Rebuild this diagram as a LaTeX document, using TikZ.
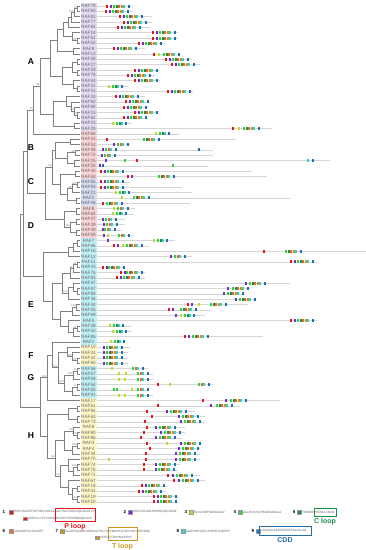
\documentclass[tikz,border=0pt]{standalone}
\usepackage{fontspec}
\setmainfont{Liberation Sans}
\usetikzlibrary{calc,positioning}

\definecolor{cA}{HTML}{E2DAF2}
\definecolor{cB}{HTML}{F9D2D4}
\definecolor{cC}{HTML}{D6DCF2}
\definecolor{cE}{HTML}{BDEDF6}
\definecolor{cF}{HTML}{FFF7C6}
\definecolor{mA}{HTML}{E8141C}
\definecolor{mB}{HTML}{7A2BD0}
\definecolor{mC}{HTML}{C9D62A}
\definecolor{mD}{HTML}{2FD33A}
\definecolor{mE}{HTML}{1E8E46}
\definecolor{mF}{HTML}{F2642A}
\definecolor{mG}{HTML}{C8961A}
\definecolor{mH}{HTML}{2ED3D8}
\definecolor{mI}{HTML}{1F6FB2}

% motif sets (offset/colour)
\def\hrp{0/mA,3.5/mB}
\def\hr{0/mA}
\def\hp{0/mB}
\def\hy{0/mC}
\def\hg{0/mD}
\def\hc{0/mH}
\def\hb{0/mI}
\def\cc{0/mD,2.5/mE,5/mF,7.5/mG,10/mH,15/mI}
\def\cs{0/mD,2.5/mF,5/mH,10/mI}
\def\cy{0/mC,4/mD,6.5/mE,9/mH,13/mI}

% clade: name, x, child, child, bootstrap
\newcommand\clade[5]{%
  \path let \p1=(#3), \p2=(#4) in coordinate (#1) at (#2pt,{0.5*\y1+0.5*\y2});
  \draw[br] (#1) |- (#3) (#1) |- (#4);
  \if\relax\detokenize{#5}\relax\else\node[bs] (#1b) at (#1) {#5};\fi}

% motif row: leaf, line end, start/set list
\newcommand\mrow[3]{%
  \draw[bar] (#1.east) -- ++({#2-96.5},0);
  \foreach \s/\q in {#3}{\edef\ql{\q}%
    \foreach \d/\k in \ql{\fill[\k] ($(#1.east)+({\s+\d-96.5},-1.5)$) rectangle ++(2.1,3);}}}

\begin{document}
\begin{tikzpicture}[x=1pt,y=-1pt,
  br/.style={draw=black!50,line width=.5pt},
  bar/.style={draw=black!16,line width=.7pt},
  leaf/.style={inner sep=0pt,minimum width=16pt,minimum height=5.4pt,
    font=\fontsize{4.6}{5}\selectfont,text=black!60},
  lbA/.style={leaf,fill=cA},
  lbB/.style={leaf,fill=cB},
  lbC/.style={leaf,fill=cC},
  lbE/.style={leaf,fill=cE},
  lbF/.style={leaf,fill=cF},
  bs/.style={font=\fontsize{2.6}{3}\selectfont,text=black!60,inner sep=.3pt,anchor=south east},
  grp/.style={font=\fontsize{8.5}{9}\selectfont\bfseries},
  num/.style={font=\fontsize{4.5}{5}\selectfont\bfseries,inner sep=0pt},
  key/.style={inner sep=0pt,minimum width=3.6pt,minimum height=3.6pt,draw=black!40,line width=.2pt},
  seq/.style={font=\fontsize{3.1}{3.5}\selectfont,inner sep=0pt,text=black!65},
  loopbox/.style={draw,line width=.8pt,inner sep=0pt},
  looplab/.style={font=\fontsize{7}{8}\selectfont\bfseries,inner sep=0pt}]

\useasboundingbox (0,0) rectangle (366,550);
\fill[white] (0,0) rectangle (366,550);

% leaf labels
\foreach \n [count=\i from 0] in {79,80,81,77,82,14,51,52,9,13,26,27,28,78,84,22,31,30,92,89,15,62,23,29}
  \node[lbA] (RAF\n) at (88.5,{6+5.333*\i}) {RAF\n};
\foreach \n [count=\i from 24] in {68,33,53,48,72,25,35,40,50}
  \node[lbB] (RAF\n) at (88.5,{6+5.333*\i}) {RAF\n};
\foreach \n [count=\i from 33] in {65,93,21,2,46}
  \node[lbC] (RAF\n) at (88.5,{6+5.333*\i}) {RAF\n};
\foreach \n [count=\i from 38] in {8,64,37,39,49,59}
  \node[lbB] (RAF\n) at (88.5,{6+5.333*\i}) {RAF\n};
\foreach \n [count=\i from 44] in {7,66,16,12,11,43,76,83,47,87,88,36,44,45,69,5,38,42,85,1}
  \node[lbE] (RAF\n) at (88.5,{6+5.333*\i}) {RAF\n};
\foreach \n [count=\i from 64] in {10,24,32,60}
  \node[lbF] (RAF\n) at (88.5,{6+5.333*\i}) {RAF\n};
\foreach \n [count=\i from 68] in {56,57,58,54,55,91}
  \node[lbE] (RAF\n) at (88.5,{6+5.333*\i}) {RAF\n};
\foreach \n [count=\i from 74] in {17,61,94,63,73,6,90,86,3,4,34,70,74,75,71,67,18,41,19,20}
  \node[lbF] (RAF\n) at (88.5,{6+5.333*\i}) {RAF\n};

% group letters
\node[grp] (gA) at (31,62) {A};
\node[grp] (gB) at (31,148) {B};
\node[grp] (gC) at (31,182) {C};
\node[grp] (gD) at (31,226) {D};
\node[grp] (gE) at (31,305) {E};
\node[grp] (gF) at (31,356) {F};
\node[grp] (gG) at (31,378) {G};
\node[grp] (gH) at (31,436) {H};

% tree, group A
\clade{a1}{77}{RAF79}{RAF80}{74}
\clade{a2}{74}{a1}{RAF81}{100}
\clade{a3}{71}{a2}{RAF77}{}
\clade{a4}{68}{a3}{RAF82}{}
\clade{a5}{77}{RAF51}{RAF52}{92}
\clade{a6}{72}{RAF14}{a5}{}
\clade{a7}{63}{a4}{a6}{}
\clade{a8}{73}{RAF9}{RAF13}{}
\clade{a9}{57}{a7}{a8}{}
\clade{a10}{77}{RAF26}{RAF27}{}
\clade{a11}{77}{RAF28}{RAF78}{}
\clade{a12}{72}{a10}{a11}{}
\clade{a13}{77}{RAF22}{RAF31}{}
\clade{a14}{73}{RAF84}{a13}{}
\clade{a15}{62}{a12}{a14}{}
\clade{a16}{50}{a9}{a15}{}
\clade{a17}{77}{RAF15}{RAF62}{93}
\clade{a18}{74}{RAF89}{a17}{54}
\clade{a19}{71}{RAF92}{a18}{}
\clade{a20}{66}{RAF30}{a19}{}
\clade{a21}{74}{RAF23}{RAF29}{}
\clade{a22}{53}{a20}{a21}{}
\clade{a23}{40}{a16}{a22}{92}
\clade{t2}{33}{a23}{RAF68}{75}
% groups B, C, D
\clade{b1}{70}{RAF33}{RAF53}{}
\clade{b2}{75}{RAF48}{RAF72}{59}
\clade{b3}{74}{RAF25}{RAF35}{}
\clade{b4}{67}{b2}{b3}{}
\clade{b5}{55}{b1}{b4}{}
\clade{c1}{75}{RAF40}{RAF50}{}
\clade{c2}{77}{RAF65}{RAF93}{100}
\clade{c3}{72}{c2}{RAF21}{98}
\clade{c4}{76}{RAF2}{RAF46}{}
\clade{c5}{67}{c3}{c4}{}
\clade{c6}{60}{c1}{c5}{}
\clade{bc}{52}{b5}{c6}{92}
\clade{d1}{76}{RAF8}{RAF64}{}
\clade{d2}{76}{RAF37}{RAF39}{}
\clade{d3}{76}{RAF49}{RAF59}{}
\clade{d4}{70}{d2}{d3}{92}
\clade{d5}{64}{d1}{d4}{}
\clade{bcd}{45}{bc}{d5}{}
\clade{t1}{27}{t2}{bcd}{}
% group E
\clade{e1}{77}{RAF7}{RAF66}{}
\clade{e2}{73}{e1}{RAF16}{}
\clade{e3}{68}{e2}{RAF12}{}
\clade{e4}{77}{RAF11}{RAF43}{91}
\clade{e5}{73}{e4}{RAF76}{86}
\clade{e6}{70}{e5}{RAF83}{}
\clade{e7}{77}{RAF87}{RAF88}{}
\clade{e8}{73}{RAF47}{e7}{}
\clade{e9}{68}{e8}{RAF36}{100}
\clade{e10}{62}{e6}{e9}{}
\clade{e11}{76}{RAF44}{RAF45}{100}
\clade{e12}{72}{e11}{RAF69}{}
\clade{e13}{77}{RAF38}{RAF42}{91}
\clade{e14}{73}{e13}{RAF85}{}
\clade{e15}{68}{RAF5}{e14}{}
\clade{e16}{60}{e12}{e15}{}
\clade{e17}{52}{e10}{e16}{}
\clade{e}{43}{e3}{e17}{}
\clade{u}{23}{t1}{e}{}
% groups F, G
\clade{f1}{77}{RAF32}{RAF60}{100}
\clade{f2}{72}{RAF24}{f1}{98}
\clade{f3}{67}{RAF10}{f2}{}
\clade{g1}{77}{RAF56}{RAF57}{93}
\clade{g2}{73}{g1}{RAF58}{100}
\clade{g3}{77}{RAF54}{RAF55}{77}
\clade{g4}{72}{g3}{RAF91}{}
\clade{g5}{64}{g2}{g4}{100}
\clade{fg}{58}{f3}{g5}{100}
\clade{p2}{52}{RAF1}{fg}{}
\clade{p3}{47}{p2}{RAF17}{100}
% group H
\clade{h1}{77}{RAF61}{RAF94}{}
\clade{h2}{77}{RAF63}{RAF73}{}
\clade{h3}{68}{h1}{h2}{}
\clade{h4}{77}{RAF90}{RAF86}{100}
\clade{h5}{73}{RAF6}{h4}{93}
\clade{h6}{77}{RAF3}{RAF4}{100}
\clade{h7}{72}{h6}{RAF34}{}
\clade{h8}{64}{h5}{h7}{}
\clade{h9}{77}{RAF74}{RAF75}{100}
\clade{h10}{73}{h9}{RAF71}{}
\clade{h11}{68}{RAF70}{h10}{}
\clade{h12}{77}{RAF18}{RAF41}{}
\clade{h13}{77}{RAF19}{RAF20}{100}
\clade{h14}{72}{h12}{h13}{}
\clade{h15}{68}{RAF67}{h14}{}
\clade{h16}{60}{h11}{h15}{54}
\clade{h17}{55}{h8}{h16}{92}
\clade{h}{47}{h3}{h17}{}
\clade{l}{40}{p3}{h}{}
\clade{root}{20}{u}{l}{}

% motif rows
\mrow{RAF79}{133}{106/\hrp,113/\cc}
\mrow{RAF80}{133}{105/\hrp,112/\cc}
\mrow{RAF81}{152}{119/\hrp,126/\cc}
\mrow{RAF77}{152}{123/\hrp,130/\cc}
\mrow{RAF82}{150}{117/\hrp,124/\cc}
\mrow{RAF14}{178}{152/\hrp,159/\cc}
\mrow{RAF51}{178}{152/\hrp,159/\cc}
\mrow{RAF52}{165}{138/\hrp,145/\cc}
\mrow{RAF9}{145}{113/\hrp,120/\cc}
\mrow{RAF13}{180}{153/\hr,158/\hy,163/\cc}
\mrow{RAF26}{192}{165/\hrp,172/\cc}
\mrow{RAF27}{200}{171/\hrp,178/\cc}
\mrow{RAF28}{160}{134/\hrp,141/\cc}
\mrow{RAF78}{155}{127/\hrp,134/\cc}
\mrow{RAF84}{160}{134/\hrp,141/\cc}
\mrow{RAF22}{128}{108/\cy}
\mrow{RAF31}{193}{167/\hrp,174/\cc}
\mrow{RAF30}{145}{115/\hrp,122/\cc}
\mrow{RAF92}{150}{125/\hrp,132/\cc}
\mrow{RAF89}{148}{123/\hrp,130/\cc}
\mrow{RAF15}{158}{134/\hrp,141/\cc}
\mrow{RAF62}{148}{123/\hrp,130/\cc}
\mrow{RAF23}{132}{112/\cy}
\mrow{RAF29}{272}{232/\hr,238/\hy,243/\cc}
\mrow{RAF68}{180}{155/\cy}
\mrow{RAF33}{236}{106/\hr,143/\cc}
\mrow{RAF53}{130}{113/\hp,117/\cs}
\mrow{RAF48}{213}{102/\hp,105/\cs,198/\hb}
\mrow{RAF72}{213}{101/\hp,104/\cs}
\mrow{RAF25}{330}{105/\hp,124/\hg,136/\hr,307/\hc,312/\hb}
\mrow{RAF35}{208}{99/\hp,102/\hb,172/\hg}
\mrow{RAF40}{252}{100/\hrp,107/\cc}
\mrow{RAF50}{267}{127/\hrp,158/\cc}
\mrow{RAF65}{130}{100/\hrp,107/\cc}
\mrow{RAF93}{182}{100/\hrp,107/\cc}
\mrow{RAF21}{192}{115/\cy}
\mrow{RAF2}{290}{121/\hy,133/\cc}
\mrow{RAF46}{190}{102/\hr,106/\cc}
\mrow{RAF8}{135}{113/\hy,117/\cs}
\mrow{RAF64}{133}{112/\cy}
\mrow{RAF37}{125}{102/\hp,105/\cs}
\mrow{RAF39}{125}{103/\hp,106/\cs}
\mrow{RAF49}{122}{102/\hp,104/\cs}
\mrow{RAF59}{132}{103/\hp,107/\hy,118/\cs}
\mrow{RAF7}{175}{107/\hp,153/\cy}
\mrow{RAF66}{150}{113/\hrp,122/\hy,126/\cc}
\mrow{RAF16}{366}{263/\hr,285/\cc}
\mrow{RAF12}{192}{170/\hp,174/\cs}
\mrow{RAF11}{317}{290/\hrp,297/\cc}
\mrow{RAF43}{125}{102/\hrp,108/\cc}
\mrow{RAF76}{145}{120/\hrp,126/\cc}
\mrow{RAF83}{145}{116/\hrp,123/\cc}
\mrow{RAF47}{290}{245/\hp,249/\cc}
\mrow{RAF87}{250}{227/\hp,232/\cc}
\mrow{RAF88}{245}{223/\hp,227/\cc}
\mrow{RAF36}{255}{235/\hp,239/\cc}
\mrow{RAF44}{248}{187/\hrp,198/\hy,210/\cc}
\mrow{RAF45}{210}{168/\hrp,180/\cc}
\mrow{RAF69}{205}{175/\hp,180/\cy}
\mrow{RAF5}{317}{290/\hrp,297/\cc}
\mrow{RAF38}{132}{109/\cy}
\mrow{RAF42}{132}{112/\cy}
\mrow{RAF85}{263}{184/\hrp,192/\cc}
\mrow{RAF1}{125}{110/\cy}
\mrow{RAF10}{130}{103/\hp,106/\cc}
\mrow{RAF24}{128}{103/\hp,106/\cc}
\mrow{RAF32}{128}{103/\hp,106/\cc}
\mrow{RAF60}{128}{103/\hp,106/\cc}
\mrow{RAF56}{148}{111/\hy,132/\cs}
\mrow{RAF57}{153}{118/\hy,125/\hy,137/\cs}
\mrow{RAF58}{153}{118/\hy,124/\hy,137/\cs}
\mrow{RAF54}{213}{157/\hr,169/\hy,198/\cs}
\mrow{RAF55}{148}{113/\hg,116/\hg,131/\hy,137/\cs}
\mrow{RAF91}{153}{118/\hy,124/\hy,137/\cs}
\mrow{RAF17}{280}{202/\hr,225/\hp,230/\cc}
\mrow{RAF61}{240}{157/\hr,210/\hp,216/\cc}
\mrow{RAF94}{195}{146/\hr,166/\hp,170/\cc}
\mrow{RAF63}{205}{151/\hr,178/\hp,182/\cc}
\mrow{RAF73}{205}{144/\hr,180/\hp,184/\cc}
\mrow{RAF6}{185}{146/\hr,155/\hp,159/\cc}
\mrow{RAF90}{185}{143/\hr,160/\hp,164/\cc}
\mrow{RAF86}{182}{140/\hr,155/\hp,159/\cc}
\mrow{RAF3}{200}{146/\hr,166/\hy,180/\hp,184/\cc}
\mrow{RAF4}{200}{149/\hr,178/\hp,182/\cc}
\mrow{RAF34}{200}{145/\hr,175/\hp,179/\cc}
\mrow{RAF70}{200}{108/\hy,145/\hr,175/\hp,179/\cc}
\mrow{RAF74}{180}{143/\hr,155/\hp,159/\cc}
\mrow{RAF75}{178}{143/\hr,155/\hp,158/\cc}
\mrow{RAF71}{200}{167/\hr,172/\hp,176/\cc}
\mrow{RAF67}{205}{173/\hr,178/\hp,182/\cc}
\mrow{RAF18}{168}{141/\hrp,148/\cc}
\mrow{RAF41}{165}{138/\hrp,145/\cc}
\mrow{RAF19}{178}{153/\hrp,160/\cc}
\mrow{RAF20}{178}{153/\hrp,160/\cc}

% legend
\node[num] (n1) at (4,512) {1};
\node[key,fill=mA] (k1) at (11,512) {};
\node[seq,right=1.2pt of k1] (s1) {RRVVSLEDYSVTRRLSIGSAGAVYKATCRRGQGVALKVYF};
\node[key,fill=mA] (k1b) at (25,518.5) {};
\node[seq,right=1.2pt of k1b] (s1b) {DPEVLLLPYVSIKGAFGRVYEGRRQQQVAVK};
\node[loopbox,draw=mA,minimum width=40pt,minimum height=13pt] (ploop) at (75,514.5) {};
\node[looplab,text=mA,below=2pt of ploop] (ploopt) {P loop};

\node[num] (n2) at (125,512) {2};
\node[key,fill=mB] (k2) at (130,512) {};
\node[seq,right=1.2pt of k2] (s2) {REIVZVLARLRHRNIVQCKAAF};
\node[num] (n3) at (186,512) {3};
\node[key,fill=mC] (k3) at (191,512) {};
\node[seq,right=1.2pt of k3] (s3) {RLVLYMEYADGGDLF};
\node[num] (n4) at (235,512) {4};
\node[key,fill=mD] (k4) at (240,512) {};
\node[seq,right=1.2pt of k4] (s4) {ALLPLRVVLHSADVARALA};
\node[num] (n5) at (294,512) {5};
\node[key,fill=mE] (k5) at (299,512) {};
\node[seq,right=1.2pt of k5] (s5) {HHRDIKPENVLLTADD};
\node[loopbox,draw=mE,minimum width=22pt,minimum height=8pt] (cloop) at (325,512) {};
\node[looplab,text=mE,below=2pt of cloop] (cloopt) {C loop};

\node[num] (n6) at (4,531) {6};
\node[key,fill=mF] (k6) at (11,531) {};
\node[seq,right=1.2pt of k6] (s6) {VAKIADFGLSRLKET};
\node[num] (n7) at (57,531) {7};
\node[key,fill=mG] (k7) at (62,531) {};
\node[seq,right=1.2pt of k7] (s7) {KLADFGVAIBLAEEAAVTNLTLDYNAREVLSCPLKHRIPZENK};
\node[key,fill=mG] (k7b) at (97,537.5) {};
\node[seq,right=1.2pt of k7b] (s7b) {NPEVGTRAYMAPEVF};
\node[loopbox,draw=mG,minimum width=29pt,minimum height=13pt] (tloop) at (122.5,534) {};
\node[looplab,text=mG,below=2pt of tloop] (tloopt) {T loop};
\node[num] (n8) at (178,531) {8};
\node[key,fill=mH] (k8) at (183,531) {};
\node[seq,right=1.2pt of k8] (s8) {AVDVWSVGVLLYEMLTGRPPF};
\node[num] (n9) at (253,531) {9};
\node[key,fill=mI] (k9) at (258,531) {};
\node[seq,right=1.5pt of k9] (s9) {LRAAQLAPDPERRPTAAZVLAA};
\node[loopbox,draw=mI,minimum width=52pt,minimum height=9pt] (cdd) at (285,531) {};
\node[looplab,text=mI,below=2pt of cdd] (cddt) {CDD};
\end{tikzpicture}
\end{document}
